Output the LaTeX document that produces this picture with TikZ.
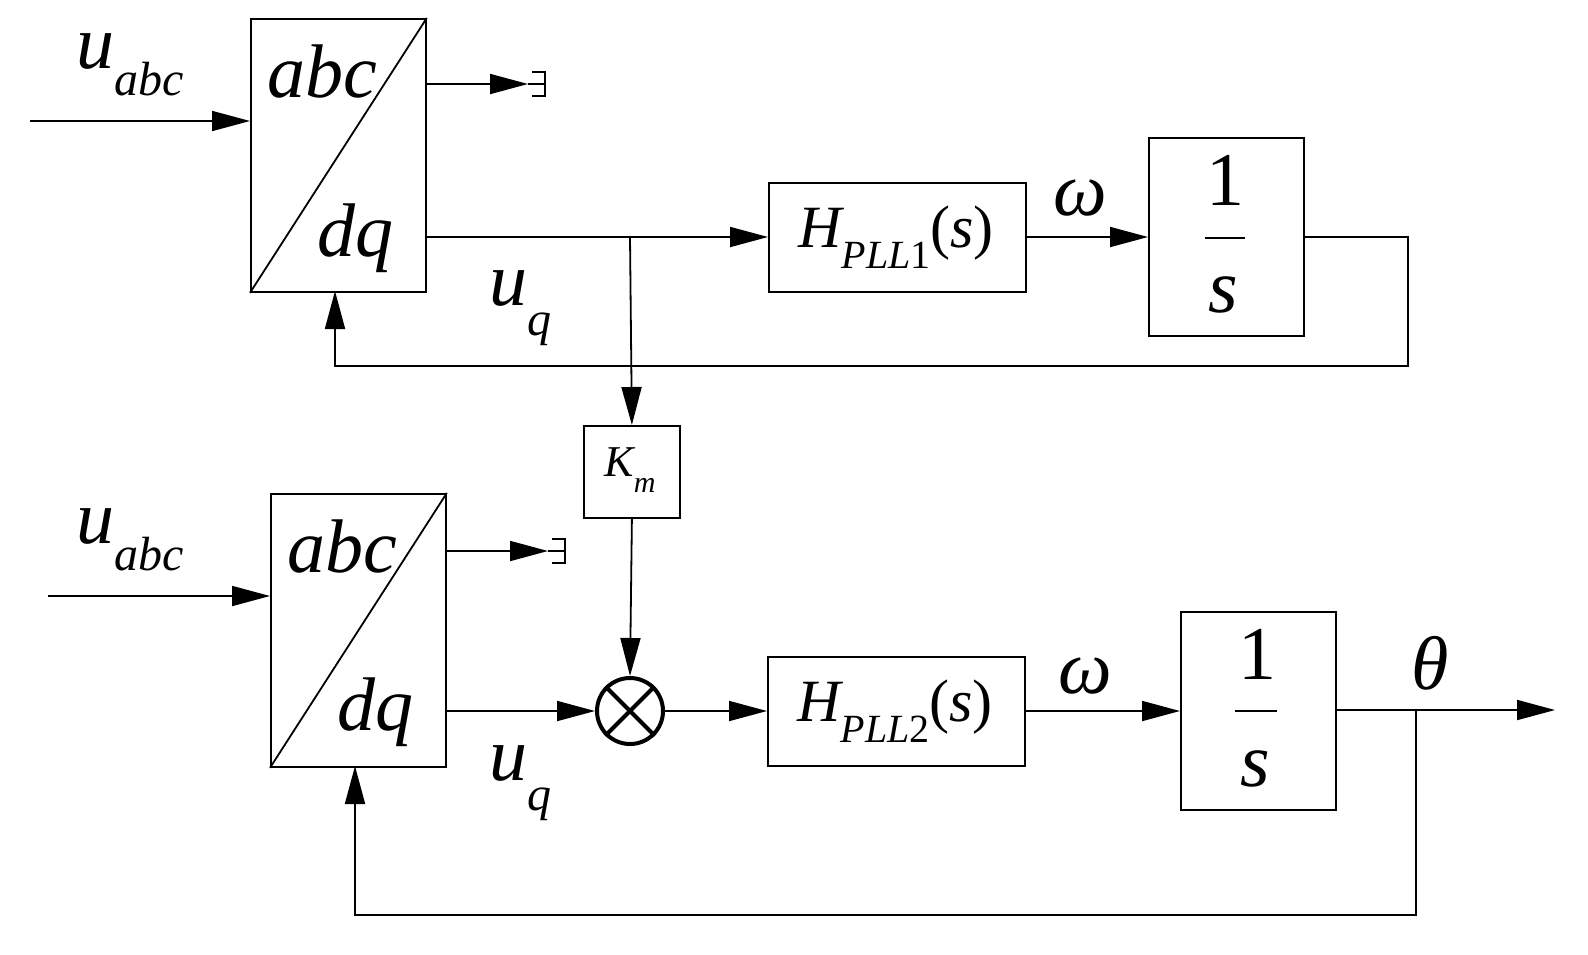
\documentclass[tikz,border=0pt]{standalone}
\usepackage{fontspec}
\setmainfont{Liberation Serif}
\usetikzlibrary{arrows.meta}
\newcommand{\myterm}[2]{\draw (#1+4,#2-12) -- (#1+17,#2-12) -- (#1+17,#2+12) -- (#1+4,#2+12); \draw (#1,#2) -- (#1+17,#2);}
\begin{document}
\begin{tikzpicture}[x=0.5pt,y=-0.5pt,
  line width=0.9pt,
  arr/.style={-{Triangle[length=19pt,width=10pt]}},
  blk/.style={draw,inner sep=0pt,anchor=north west},
  big/.style={font=\fontsize{38}{40}\selectfont\itshape},
  hf/.style={font=\fontsize{30}{32}\selectfont\itshape}]
\useasboundingbox (0,0) rectangle (1588,954);
% top
\node[blk,minimum width=87.5pt,minimum height=136.5pt] (c1) at (250,18) {};
\draw (c1.south west) -- (c1.north east);
\node[big] at (322,72) {abc};
\node[big] at (355,238) {dq};
\node[big] (ua1) at (130,65) {u\raisebox{-0.35em}{\fontsize{24}{26}\selectfont abc}};
\coordinate (in1) at (30,121);
\draw[arr] (in1) -- (250,121);
\coordinate (t1) at (528,84);
\draw[arr] (425,84) -- (t1);
\myterm{528}{84}
\node[blk,minimum width=128.5pt,minimum height=54.5pt] (h1) at (768,182) {};
\node[hf] at (896,237) {H\raisebox{-0.35em}{\fontsize{20}{22}\selectfont PLL\upshape 1}\upshape(\itshape s\upshape)};
\node[blk,minimum width=77.5pt,minimum height=99pt] (i1) at (1148,137) {};
\node[big] at (1225,180) {\upshape 1};
\draw (1205,238) -- (1245,238);
\node[big] at (1223,295) {s};
\node[big] at (1080,198) {ω};
\coordinate (b1) at (630,237);
\draw[arr] (425,237) -- (h1.west|-b1);
\draw[arr] (h1.east|-b1) -- (i1.west|-b1);
\draw[arr] (i1.east|-b1) -- (1408,237) -- (1408,366) -- (335,366) -- (335,291);
\node[big] at (520,308) {u\raisebox{-0.4em}{\fontsize{24}{26}\selectfont q}};
\node[blk,minimum width=48pt,minimum height=46pt] (km) at (583,425) {};
\node[font=\fontsize{22}{24}\selectfont\itshape] at (630,470) {K\raisebox{-0.35em}{\fontsize{15}{17}\selectfont m}};
\draw[arr] (b1) -- (km.north);
% bottom
\node[blk,minimum width=87.5pt,minimum height=136.5pt] (c2) at (270,493) {};
\draw (c2.south west) -- (c2.north east);
\node[big] at (342,547) {abc};
\node[big] at (375,712) {dq};
\node[big] at (130,540) {u\raisebox{-0.35em}{\fontsize{24}{26}\selectfont abc}};
\draw[arr] (48,596) -- (270,596);
\draw[arr] (445,551) -- (548,551);
\myterm{548}{551}
\node[draw,circle,line width=2pt,minimum size=33pt,inner sep=0pt] (m) at (630,711) {};
\draw[line width=2pt] (m.45) -- (m.225) (m.135) -- (m.315);
\draw[arr] (km.south) -- (m.north);
\draw[arr] (445,711) -- (m.west);
\node[blk,minimum width=128.5pt,minimum height=54.5pt] (h2) at (767,656) {};
\node[hf] at (895,711) {H\raisebox{-0.35em}{\fontsize{20}{22}\selectfont PLL\upshape 2}\upshape(\itshape s\upshape)};
\draw[arr] (m.east) -- (h2.west|-m);
\node[blk,minimum width=77.5pt,minimum height=99pt] (i2) at (1180,611) {};
\node[big] at (1257,654) {\upshape 1};
\draw (1235,711) -- (1277,711);
\node[big] at (1255,769) {s};
\node[big] at (1085,676) {ω};
\draw[arr] (h2.east|-m) -- (i2.west|-m);
\coordinate (o2) at (1555,710);
\draw[arr] (1335,710) -- (o2);
\node[big] at (1430,663) {θ};
\draw[arr] (1416,710) -- (1416,915) -- (355,915) -- (355,766);
\node[big] at (520,783) {u\raisebox{-0.4em}{\fontsize{24}{26}\selectfont q}};
\end{tikzpicture}
\end{document}
